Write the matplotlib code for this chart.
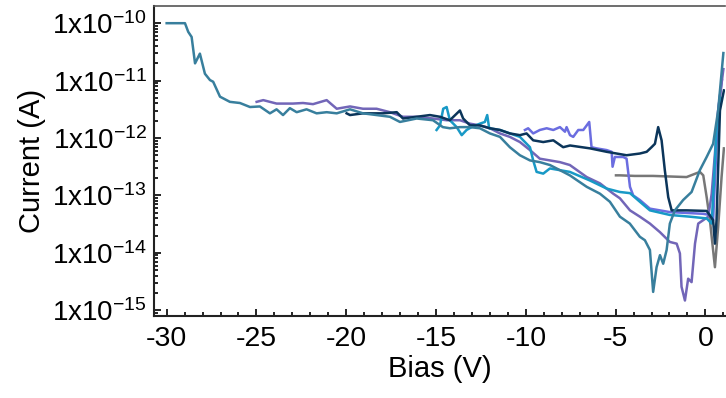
import matplotlib
matplotlib.use('Agg')
import matplotlib.pyplot as plt
import numpy as np
from matplotlib.ticker import MultipleLocator, FixedLocator, FuncFormatter, NullFormatter

plt.rcParams['font.family'] = ['Liberation Sans', 'DejaVu Sans']
plt.rcParams['mathtext.default'] = 'regular'
plt.rcParams['axes.unicode_minus'] = False

# teal, long sweep from -30 V
va = [-30.0, -28.98, -28.80, -28.61, -28.42, -28.15, -27.87, -27.59, -27.41, -27.03,
      -26.48, -25.92, -25.36, -24.81, -24.25, -23.88, -23.52, -23.14, -22.76, -22.21,
      -21.65, -21.09, -20.53, -19.79, -19.07, -18.31, -17.57, -17.01, -16.08, -15.17,
      -14.62, -14.23, -13.67, -13.11, -12.56, -12.00, -11.44, -10.89, -10.33, -9.77,
      -9.22, -8.66, -8.10, -7.55, -6.61, -5.87, -5.32, -4.76, -4.21, -3.65,
      -3.37, -3.09, -2.91, -2.72, -2.53, -2.35, -2.16, -1.98, -1.70, -1.24,
      -0.77, -0.31, 0.07, 0.43, 0.71, 1.0]
la = [-10.0, -10.0, -10.15, -10.24, -10.70, -10.53, -10.88, -10.99, -11.02, -11.28,
      -11.37, -11.39, -11.46, -11.45, -11.57, -11.50, -11.60, -11.48, -11.55, -11.50,
      -11.57, -11.55, -11.57, -11.50, -11.57, -11.60, -11.63, -11.72, -11.66, -11.69,
      -11.81, -11.83, -11.81, -11.81, -11.83, -11.92, -11.98, -12.16, -12.30, -12.39,
      -12.42, -12.47, -12.56, -12.65, -12.85, -12.97, -13.11, -13.37, -13.49, -13.72,
      -13.78, -13.95, -14.68, -14.25, -14.04, -14.19, -13.95, -13.49, -13.26, -13.08,
      -12.94, -12.56, -12.33, -12.10, -11.52, -10.52]

# purple, from -25 V
vb = [-24.99, -24.62, -24.25, -23.88, -23.52, -22.97, -22.41, -21.85, -21.09, -20.53,
      -19.79, -19.07, -18.31, -17.57, -16.84, -16.08, -15.17, -14.41, -13.67, -13.11,
      -12.56, -12.00, -11.44, -10.89, -10.33, -9.77, -9.22, -8.66, -8.10, -7.55,
      -6.61, -5.87, -5.13, -4.76, -4.20, -3.65, -3.09, -2.53, -1.98, -1.60,
      -1.42, -1.33, -1.14, -0.96, -0.77, -0.58, -0.40, -0.12, 0.16, 0.35,
      0.53, 0.71, 1.0]
lb = [-11.37, -11.34, -11.37, -11.40, -11.40, -11.40, -11.39, -11.41, -11.34, -11.49,
      -11.45, -11.49, -11.49, -11.55, -11.63, -11.63, -11.66, -11.69, -11.69, -11.75,
      -11.78, -11.83, -11.92, -11.98, -12.07, -12.21, -12.36, -12.39, -12.42, -12.47,
      -12.68, -12.79, -12.97, -13.05, -13.26, -13.37, -13.49, -13.64, -13.81, -13.84,
      -14.01, -14.59, -14.83, -14.45, -14.51, -13.84, -13.49, -13.43, -13.37, -12.97,
      -12.27, -11.52, -10.8]

# navy, from -20 V
vc = [-19.98, -19.79, -19.07, -17.96, -17.19, -16.84, -16.08, -15.34, -14.78, -14.23,
      -13.67, -13.49, -13.11, -12.56, -12.00, -11.44, -10.89, -10.33, -9.96, -9.59,
      -9.03, -8.47, -7.92, -7.54, -6.43, -5.50, -4.39, -3.65, -3.27, -3.00,
      -2.81, -2.63, -2.44, -2.26, -2.07, -1.88, -1.05, 0.07, 0.43, 0.53,
      0.62, 0.81, 1.03]
lc = [-11.57, -11.60, -11.57, -11.57, -11.55, -11.66, -11.63, -11.60, -11.63, -11.69,
      -11.52, -11.66, -11.78, -11.78, -11.83, -11.86, -11.92, -11.95, -11.92, -12.04,
      -12.07, -12.04, -12.16, -12.13, -12.18, -12.24, -12.30, -12.27, -12.24, -12.16,
      -12.10, -11.81, -12.04, -12.56, -13.03, -13.26, -13.26, -13.27, -13.43, -13.84,
      -13.43, -11.52, -11.17]

# cyan, from -15 V
vd = [-14.97, -14.78, -14.60, -14.41, -14.23, -13.85, -13.57, -13.30, -13.02, -12.56,
      -12.28, -12.15, -12.04, -11.44, -10.89, -10.33, -9.77, -9.59, -9.40, -9.03,
      -8.66, -8.10, -7.55, -6.43, -5.50, -4.76, -4.20, -3.65, -3.09, -1.98,
      -0.86, 0.07, 0.35, 0.62, 0.85]
ld = [-11.86, -11.78, -11.49, -11.46, -11.69, -11.81, -11.95, -11.86, -11.81, -11.75,
      -11.72, -11.60, -11.83, -11.86, -11.92, -11.98, -12.16, -12.39, -12.59, -12.62,
      -12.53, -12.56, -12.59, -12.74, -12.88, -12.94, -12.96, -13.11, -13.26, -13.34,
      -13.37, -13.40, -13.49, -11.86, -11.3]

# periwinkle, from -10 V
ve = [-10.05, -9.87, -9.59, -9.22, -8.84, -8.47, -8.10, -7.82, -7.73, -7.54,
      -7.36, -7.08, -6.80, -6.61, -6.47, -6.34, -6.06, -5.50, -5.22, -5.17,
      -5.04, -4.58, -4.39, -4.20, -4.02, -3.65, -3.09, -1.98, -0.12, 0.25,
      0.43, 0.71, 0.92]
le = [-11.86, -11.83, -11.92, -11.86, -11.83, -11.86, -11.81, -11.89, -11.81, -11.95,
      -11.98, -11.86, -11.86, -11.78, -11.72, -12.16, -12.18, -12.21, -12.24, -12.50,
      -12.33, -12.33, -12.36, -12.85, -13.00, -13.08, -13.23, -13.29, -13.32, -13.34,
      -13.43, -11.52, -10.99]

# gray, from -5 V
vf = [-4.98, -4.76, -3.93, -2.92, -1.98, -1.05, -0.31, -0.12, 0.07, 0.25,
      0.53, 0.71, 0.90, 1.03]
lf = [-12.65, -12.65, -12.66, -12.66, -12.67, -12.68, -12.59, -12.65, -13.03, -13.43,
      -14.25, -13.55, -12.68, -12.18]

decades = [-15, -14, -13, -12, -11, -10]

fig = plt.figure(figsize=(7.26, 3.98), dpi=100)
ax = fig.add_axes([0.212, 0.206, 0.7866, 0.779])

ax.plot(vf, 10**np.array(lf), color='#777777', lw=1.8)
ax.plot(ve, 10**np.array(le), color='#6b6de0', lw=1.8)
ax.plot(vb, 10**np.array(lb), color='#7266b8', lw=1.8)
ax.plot(vd, 10**np.array(ld), color='#1899c6', lw=1.8)
ax.plot(vc, 10**np.array(lc), color='#0b355a', lw=1.8)
ax.plot(va, 10**np.array(la), color='#387f9d', lw=1.8)

ax.set_yscale('log')
ax.set_xlim(-30.71, 1.09)
ax.set_ylim(10**-15.1, 10**-9.7)

ax.xaxis.set_major_locator(MultipleLocator(5))
ax.xaxis.set_minor_locator(MultipleLocator(1))
ax.yaxis.set_major_locator(FixedLocator([10.0**d for d in decades]))
minors = [m * 10.0**d for d in [-16] + decades for m in range(2, 10)]
ax.yaxis.set_minor_locator(FixedLocator([m for m in minors if 10**-15.1 < m < 10**-9.7]))
ax.yaxis.set_minor_formatter(NullFormatter())
ax.yaxis.set_major_formatter(FuncFormatter(lambda v, p: '1x10$^{%d}$' % round(np.log10(v))))

ax.tick_params(which='both', direction='in', top=False, right=False, width=1.2)
ax.tick_params(which='major', length=5)
ax.tick_params(which='minor', length=3)
ax.tick_params(axis='x', labelsize=20.5, pad=7)
ax.tick_params(axis='y', labelsize=20, pad=5)

for s in ['left', 'bottom']:
    ax.spines[s].set_linewidth(1.5)
    ax.spines[s].set_color('#222222')
ax.spines['top'].set_color('#555555')
ax.spines['top'].set_linewidth(1.2)
ax.spines['right'].set_visible(False)

ax.set_xlabel('Bias (V)', fontsize=21, labelpad=2)
ax.set_ylabel('Current (A)', fontsize=21, labelpad=4)

plt.savefig('out.png', dpi=100)
